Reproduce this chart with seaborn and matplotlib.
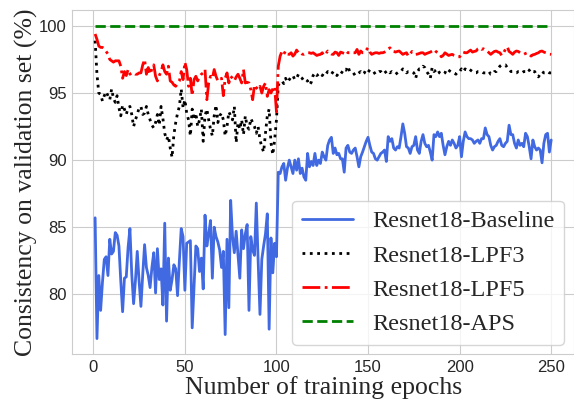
import numpy as np
import pandas as pd
import seaborn as sns
import matplotlib
matplotlib.use("Agg")
import matplotlib.pyplot as plt

# consistency (%) per epoch
baseline = [
    85.7, 76.7, 81.4, 78.8, 80.9, 82.6, 82.8, 81.4, 84.1, 83.0,
    83.2, 84.6, 84.4, 83.6, 81.0, 78.7, 81.2, 81.3, 83.5, 84.9,
    81.5, 79.3, 81.0, 83.2, 81.0, 79.1, 81.5, 83.7, 82.0, 81.4,
    80.5, 82.0, 83.1, 80.1, 83.4, 81.1, 81.9, 79.2, 85.3, 78.0,
    82.7, 80.3, 81.1, 82.2, 81.9, 79.9, 82.5, 84.9, 84.3, 80.3,
    83.8, 83.9, 84.0, 77.5, 80.5, 83.6, 83.4, 81.7, 82.7, 80.4,
    85.9, 83.6, 84.5, 85.5, 81.2, 85.0, 84.3, 83.9, 83.3, 82.0,
    83.2, 77.0, 84.1, 79.0, 87.0, 84.3, 83.1, 84.7, 83.0, 81.2,
    84.8, 83.4, 84.5, 85.2, 78.8, 84.3, 83.3, 82.9, 86.8, 82.5,
    78.5, 82.6, 83.6, 84.5, 86.0, 77.4, 84.2, 81.6, 83.8, 82.8,
    89.1, 89.0, 89.5, 89.75, 88.5, 89.4, 90.0, 89.5, 89.0, 90.0,
    89.25, 90.1, 89.0, 89.4, 88.75, 88.5, 90.5, 89.5, 89.9, 89.6,
    90.5, 89.6, 90.0, 89.75, 90.6, 90.25, 90.0, 91.1, 91.5, 91.7,
    90.5, 90.9, 90.4, 90.5, 90.1, 90.1, 89.1, 90.9, 91.1, 90.6,
    90.5, 90.75, 90.9, 90.25, 89.5, 90.25, 90.6, 91.0, 91.4, 91.7,
    91.1, 90.6, 90.5, 90.1, 90.0, 90.25, 90.5, 90.6, 90.75, 89.9,
    91.75, 91.4, 91.6, 90.9, 90.75, 91.0, 90.9, 91.75, 92.7, 92.0,
    91.0, 90.9, 90.5, 91.0, 91.1, 91.75, 90.75, 90.5, 91.4, 91.9,
    91.25, 91.0, 91.1, 90.6, 90.0, 91.9, 91.75, 92.1, 91.75, 92.0,
    91.1, 90.4, 91.0, 91.4, 91.1, 91.5, 91.25, 90.9, 91.1, 91.75,
    90.25, 91.4, 92.1, 91.75, 91.6, 91.6, 91.5, 91.25, 91.4, 91.5,
    91.25, 91.6, 91.6, 92.4, 91.9, 91.75, 91.1, 90.75, 91.0, 91.1,
    91.4, 91.6, 91.1, 91.0, 91.25, 91.4, 92.6, 91.9, 91.9, 91.25,
    90.9, 91.5, 91.1, 91.25, 91.0, 92.0, 91.75, 91.0, 90.1, 91.5,
    91.0, 90.75, 90.9, 90.75, 89.8, 91.25, 91.9, 92.0, 90.6, 91.5,
]

lpf3 = [
    98.9, 96.4, 95.0, 94.9, 94.4, 94.8, 95.1, 94.8, 94.5, 95.3,
    94.6, 94.3, 94.8, 93.9, 93.3, 94.1, 93.8, 93.4, 93.9, 94.0,
    93.4, 92.5, 93.0, 93.4, 93.9, 94.0, 93.4, 93.5, 94.0, 93.4,
    93.0, 92.6, 92.4, 92.8, 93.4, 92.6, 94.0, 93.1, 92.0, 91.5,
    91.8, 90.9, 90.2, 91.9, 92.8, 93.5, 94.0, 95.3, 93.9, 94.5,
    93.5, 93.0, 91.8, 93.8, 93.0, 93.5, 92.5, 93.0, 93.8, 91.4,
    93.3, 93.8, 93.0, 92.3, 91.8, 93.3, 94.1, 92.8, 93.3, 93.5,
    93.0, 91.8, 92.5, 93.6, 93.3, 93.0, 94.0, 91.3, 92.8, 92.3,
    93.0, 91.9, 93.3, 92.5, 92.3, 93.1, 92.8, 92.5, 92.0, 92.5,
    91.5, 91.0, 90.6, 92.0, 93.3, 93.8, 91.3, 90.4, 91.5, 93.0,
    95.6, 95.8, 95.9, 95.7, 96.1, 95.8, 96.0, 96.2, 96.3, 96.0,
    96.1, 96.4, 96.2, 96.1, 95.9, 96.0, 95.9, 95.6, 95.8, 96.3,
    96.5, 96.3, 96.4, 96.5, 96.3, 96.5, 96.4, 96.6, 96.5, 96.4,
    96.6, 96.5, 96.3, 96.5, 96.4, 96.6, 96.8, 96.7, 97.0, 96.6,
    96.5, 96.5, 96.3, 96.4, 96.5, 96.6, 96.4, 96.5, 96.8, 96.7,
    96.6, 96.5, 96.6, 96.4, 96.5, 96.6, 96.6, 96.4, 96.5, 96.6,
    96.7, 96.5, 96.6, 96.5, 96.4, 96.5, 96.6, 96.6, 96.8, 96.7,
    96.5, 96.6, 96.6, 96.6, 96.5, 96.1, 96.6, 96.8, 96.8, 97.0,
    96.9, 96.6, 96.4, 96.1, 96.9, 96.6, 96.7, 96.8, 96.5, 96.4,
    96.4, 96.5, 96.8, 96.7, 96.6, 96.5, 96.5, 96.4, 96.6, 96.6,
    96.8, 96.6, 96.8, 96.7, 96.8, 96.7, 96.6, 96.5, 96.5, 96.6,
    96.6, 96.6, 96.5, 96.5, 96.5, 96.6, 96.4, 96.4, 96.6, 96.6,
    96.8, 97.0, 97.1, 97.1, 97.1, 96.9, 96.8, 96.6, 96.6, 96.5,
    96.5, 96.6, 96.6, 96.5, 96.6, 96.6, 96.8, 96.7, 96.5, 96.6,
    96.6, 96.3, 96.2, 96.4, 96.6, 96.5, 96.5, 96.6, 96.5, 96.5,
]

lpf5 = [
    99.4, 99.0, 98.5, 98.4, 98.4, 98.3, 98.1, 97.9, 97.5, 97.4,
    97.3, 97.4, 97.4, 97.4, 97.0, 96.1, 96.6, 96.3, 96.75, 96.4,
    96.5, 96.5, 96.4, 96.4, 96.5, 96.5, 97.1, 97.5, 96.4, 96.9,
    96.4, 96.8, 97.1, 96.25, 95.9, 96.3, 96.6, 97.1, 96.6, 96.4,
    97.0, 95.9, 95.8, 95.6, 95.5, 95.7, 95.9, 96.6, 96.0, 97.3,
    96.75, 95.5, 96.1, 94.8, 96.0, 96.25, 95.9, 96.2, 96.4, 96.5,
    96.75, 94.5, 95.75, 96.25, 96.1, 96.75, 96.25, 95.9, 96.0, 96.1,
    94.8, 96.1, 96.5, 95.75, 96.25, 96.1, 95.9, 96.2, 96.4, 96.1,
    95.75, 96.75, 95.75, 95.8, 95.75, 95.25, 94.5, 95.6, 95.4, 95.25,
    95.5, 95.0, 95.5, 95.75, 94.75, 95.25, 95.0, 95.3, 95.5, 93.6,
    97.0, 97.75, 98.1, 97.9, 98.13, 97.9, 97.88, 98.0, 97.75, 97.9,
    98.2, 98.0, 98.05, 97.9, 97.88, 97.95, 98.0, 98.0, 97.95, 98.0,
    97.9, 97.8, 97.85, 97.88, 98.0, 97.8, 97.95, 98.13, 98.0, 97.9,
    97.88, 98.05, 98.0, 97.8, 98.05, 98.0, 97.95, 98.13, 98.0, 98.0,
    98.05, 98.0, 98.0, 98.25, 97.88, 98.13, 98.0, 98.0, 98.2, 98.37,
    98.05, 97.88, 97.95, 98.0, 98.0, 97.95, 98.0, 98.0, 98.05, 98.13,
    98.3, 98.37, 98.13, 98.1, 98.05, 98.1, 98.13, 98.0, 97.88, 97.95,
    98.0, 97.75, 97.9, 98.1, 98.0, 97.88, 97.9, 97.95, 98.0, 98.0,
    97.88, 97.95, 98.0, 98.05, 98.13, 98.25, 98.1, 98.0, 97.95, 97.7,
    97.8, 98.0, 97.9, 97.8, 97.85, 97.88, 97.8, 97.75, 97.7, 97.7,
    97.9, 98.05, 98.0, 98.0, 98.1, 98.2, 98.05, 98.1, 98.13, 98.3,
    98.37, 98.25, 98.3, 98.2, 98.13, 98.0, 97.88, 98.0, 98.1, 98.13,
    98.05, 98.0, 97.8, 98.0, 98.25, 98.45, 98.1, 98.0, 97.88, 98.05,
    98.13, 98.1, 98.0, 97.95, 97.88, 97.95, 98.0, 97.9, 97.75, 97.85,
    97.88, 97.95, 98.0, 98.1, 98.13, 98.05, 98.0, 97.95, 97.9, 97.88,
]

aps = [100.0] * 250

epochs = np.arange(1, len(baseline) + 1)
series_names = ["Resnet18-Baseline", "Resnet18-LPF3", "Resnet18-LPF5", "Resnet18-APS"]
series_vals = [baseline, lpf3, lpf5, aps]
colors = ["royalblue", "black", "red", "green"]
styles = ["-", ":", "-.", "--"]

sns.set_style("whitegrid")
plt.rcParams["font.family"] = ["Liberation Sans", "DejaVu Sans"]

fig = plt.figure(figsize=(5.74, 4.01), dpi=100)
ax = fig.add_axes([0.126, 0.1165, 0.874, 0.858])

for name, vals, c, ls in zip(series_names, series_vals, colors, styles):
    df = pd.DataFrame({"epoch": epochs, "value": vals})
    sns.lineplot(data=df, x="epoch", y="value", ax=ax, color=c,
                 linestyle=ls, linewidth=2, label=name)

ax.set_xlim(-11.45, 262.45)
ax.set_ylim(75.53, 101.17)
ax.set_xticks([0, 50, 100, 150, 200, 250])
ax.set_yticks([80, 85, 90, 95, 100])
ax.tick_params(labelsize=12, length=0, pad=4)

serif = ["Liberation Serif", "DejaVu Serif"]
ax.set_xlabel("Number of training epochs", fontsize=18.5, family=serif, labelpad=1)
ax.set_ylabel("Consistency on validation set (%)", fontsize=18.5, family=serif, labelpad=1)

ax.legend(loc="lower right", prop={"family": serif, "size": 17.5},
          handlelength=2.1, frameon=True, borderaxespad=0.4)

fig.savefig("out.png", dpi=100)
